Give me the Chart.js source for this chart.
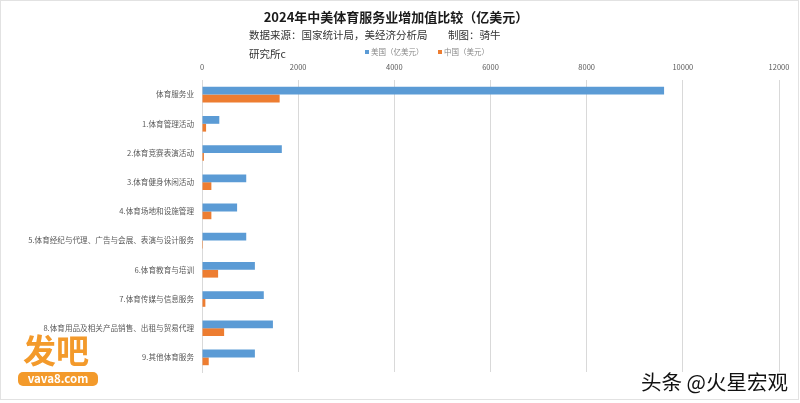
<!DOCTYPE html>
<html>
<head>
<meta charset="utf-8">
<script src="https://cdn.jsdelivr.net/npm/chart.js@4.4.1/dist/chart.umd.min.js"></script>
<style>
html,body{margin:0;padding:0;background:#fff;}
#wrap{width:800px;height:403px;position:relative;}
</style>
</head>
<body>
<div id="wrap"><canvas id="c" width="800" height="403"></canvas></div>
<script>
const categories = [
  "体育服务业",
  "1.体育管理活动",
  "2.体育竞赛表演活动",
  "3.体育健身休闲活动",
  "4.体育场地和设施管理",
  "5.体育经纪与代理、广告与会展、表演与设计服务",
  "6.体育教育与培训",
  "7.体育传媒与信息服务",
  "8.体育用品及相关产品销售、出租与贸易代理",
  "9.其他体育服务"
];
const usValues = [9610, 360, 1660, 920, 730, 920, 1100, 1285, 1475, 1100];
const cnValues = [1615, 85, 40, 195, 195, 20, 335, 70, 460, 140];
const seriesLabels = ["美国（亿美元）", "中国（美元）"];
const xTicks = [0, 2000, 4000, 6000, 8000, 10000, 12000];

const FONT = '"Microsoft YaHei","Noto Sans CJK SC","DejaVu Sans",sans-serif';
const colors = ["#5B9BD5", "#ED7D31"];

const decor = {
  id: 'decor',
  afterDraw(chart) {
    const ctx = chart.ctx;
    ctx.save();
    // title
    ctx.fillStyle = '#1a1a1a';
    ctx.textBaseline = 'middle';
    ctx.textAlign = 'center';
    ctx.font = 'bold 13px ' + FONT;
    ctx.fillText('2024年中美体育服务业增加值比较（亿美元）', 396, 17);
    // source text
    ctx.textAlign = 'left';
    ctx.font = '10.5px ' + FONT;
    ctx.fillStyle = '#333';
    ctx.fillText('数据来源：国家统计局，美经济分析局', 249, 35);
    ctx.fillText('制图：骑牛', 448, 35);
    ctx.fillText('研究所c', 249, 54);
    // legend
    ctx.font = '7.5px ' + FONT;
    const lx = [365, 438];
    chart.data.datasets.forEach((ds, i) => {
      ctx.fillStyle = ds.backgroundColor;
      ctx.fillRect(lx[i], 50, 4, 4);
      ctx.fillStyle = '#888';
      ctx.fillText(ds.label, lx[i] + 6, 52);
    });
    // watermark bottom-left
    ctx.fillStyle = '#F39A2B';
    ctx.font = 'bold 33px ' + FONT;
    ctx.fillText('发吧', 23, 350);
    ctx.beginPath();
    if (ctx.roundRect) ctx.roundRect(18, 372, 80, 14, 5); else ctx.rect(18, 372, 80, 14);
    ctx.fill();
    ctx.fillStyle = '#fff';
    ctx.font = 'bold 11.5px ' + FONT;
    ctx.textAlign = 'center';
    ctx.fillText('vava8.com', 58, 379);
    // watermark bottom-right
    ctx.textAlign = 'left';
    ctx.font = '20.5px ' + FONT;
    ctx.shadowColor = 'rgba(255,255,255,0.9)';
    ctx.shadowOffsetX = 1; ctx.shadowOffsetY = 1; ctx.shadowBlur = 1;
    ctx.fillStyle = '#111';
    ctx.fillText('头条 @火星宏观', 641, 382);
    ctx.shadowColor = 'transparent';
    // frame
    ctx.strokeStyle = '#e2e2e2';
    ctx.lineWidth = 1;
    ctx.strokeRect(0.5, 0.5, 798, 399);
    ctx.restore();
  }
};

new Chart(document.getElementById('c'), {
  type: 'bar',
  data: {
    labels: categories,
    datasets: [
      { label: seriesLabels[0], data: usValues, backgroundColor: colors[0] },
      { label: seriesLabels[1], data: cnValues, backgroundColor: colors[1] }
    ]
  },
  options: {
    indexAxis: 'y',
    responsive: false,
    animation: false,
    devicePixelRatio: 1,
    layout: { padding: { left: 0, right: 21, top: 0, bottom: 31 } },
    datasets: { bar: { barPercentage: 1, categoryPercentage: 0.535 } },
    plugins: {
      legend: { display: false },
      title: { display: false },
      tooltip: { enabled: false }
    },
    scales: {
      x: {
        position: 'top',
        min: 0, max: 12000,
        afterBuildTicks(scale) { scale.ticks = xTicks.map(v => ({ value: v })); },
        afterFit(scale) { scale.height = 80; },
        ticks: { font: { size: 7.5, family: FONT }, color: '#595959', padding: 8, callback: v => String(v) },
        grid: { color: '#d9d9d9', drawTicks: false, lineWidth: 1 },
        border: { display: false }
      },
      y: {
        afterFit(scale) { scale.width = 202; },
        ticks: { font: { size: 7.6, family: FONT }, color: '#595959', padding: 8, autoSkip: false },
        grid: { display: false, drawTicks: false },
        border: { display: true, color: '#d9d9d9' }
      }
    }
  },
  plugins: [decor]
});
</script>
</body>
</html>
